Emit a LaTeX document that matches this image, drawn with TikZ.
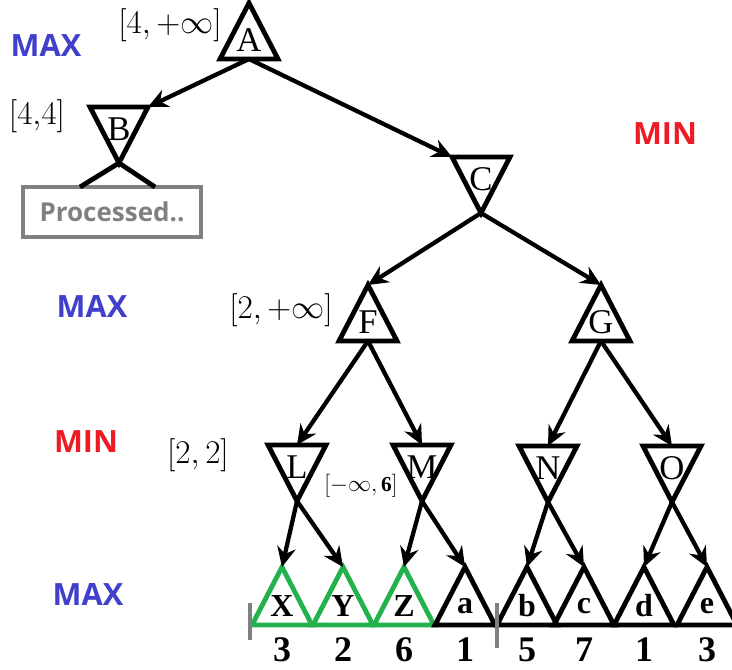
\documentclass[tikz,border=0pt]{standalone}
\usepackage{fontspec}
\setmainfont{Liberation Serif}
\newfontfamily\tagfont{Open Sans}
\usetikzlibrary{arrows.meta}

\definecolor{maxblue}{RGB}{64,64,204}
\definecolor{minred}{RGB}{237,28,36}
\definecolor{leafgreen}{RGB}{34,177,76}
\definecolor{boxgray}{RGB}{128,128,128}

\tikzset{
    tri/.style={line width=3.6pt,line join=miter},
    edge/.style={->,line width=3.2pt},
    letter/.style={inner sep=0pt,font=\fontsize{26}{26}\selectfont},
    leafletter/.style={inner sep=0pt,font=\fontsize{24}{24}\selectfont\bfseries},
    value/.style={inner sep=0pt,font=\fontsize{27}{27}\selectfont\bfseries},
    bound/.style={inner sep=0pt,font=\fontsize{24}{24}\selectfont},
    level/.style={inner sep=0pt,font=\fontsize{23}{23}\selectfont\tagfont\bfseries},
    procbox/.style={draw=boxgray,line width=3pt,minimum width=133pt,minimum height=37pt,
        text=boxgray,font=\fontsize{19.5}{19.5}\selectfont\tagfont\bfseries},
    bar/.style={draw=boxgray,line width=3pt},
    % up triangle: apex at the pic origin
    maxtri/.pic={
        \draw[tri] (0,0) coordinate (-top) -- (-29,56) -- (29,56) -- cycle;
        \coordinate (-bot) at (0,56);
        \node[letter] (-txt) at (0,37) {\tikzpictext};
    },
    % down triangle: top side centre at the pic origin
    mintri/.pic={
        \draw[tri] (-29,0) coordinate (-tl) -- (29,0) coordinate (-tr)
            -- (0,56) coordinate (-bot) -- cycle;
        \coordinate (-top) at (0,0);
        \node[letter] (-txt) at (0,22) {\tikzpictext};
    },
    leaftri/.pic={
        \draw[tri] (0,0) coordinate (-top) -- (-30,58) -- (30,58) -- cycle;
        \node[leafletter] (-txt) at (0,39) {\tikzpictext};
    },
}

\begin{document}
\begin{tikzpicture}[>={Stealth[length=15pt,width=14pt,inset=5pt]},x=0.75pt,y=-0.75pt]
    \useasboundingbox (0,0) rectangle (732,669);

    % level tags
    \node[level,text=maxblue] (max1) at (46,46) {MAX};
    \node[level,text=minred] (min1) at (665,134) {MIN};
    \node[level,text=maxblue] (max2) at (92,306) {MAX};
    \node[level,text=minred] (min2) at (86,442) {MIN};
    \node[level,text=maxblue] (max3) at (88,594) {MAX};

    % tree
    \pic[pic text=A] (A) at (249,3) {maxtri};
    \pic[pic text=B] (B) at (119,107) {mintri};
    \pic[pic text=C] (C) at (481,157) {mintri};
    \pic[pic text=F] (F) at (368,285) {maxtri};
    \pic[pic text=G] (G) at (601,285) {maxtri};
    \pic[pic text=L] (L) at (297,445) {mintri};
    \pic[pic text=M] (M) at (422,445) {mintri};
    \pic[pic text=N] (N) at (548,446) {mintri};
    \pic[pic text=O] (O) at (672,446) {mintri};

    \foreach \nm/\xx/\val/\col in {X/282/3/leafgreen, Y/343/2/leafgreen, Z/404/6/leafgreen,
            a/465/1/black, b/527/5/black, c/584/7/black, d/644/1/black, e/707/3/black}{
        \pic[pic text=\nm,tri/.append style={draw=\col}] (\nm) at (\xx,567) {leaftri};
        \node[value] (v\nm) at (\xx,650) {\val};
    }

    \node[procbox] (proc) at (112,212) {Processed..};
    \coordinate (pl) at (80,187);
    \coordinate (pr) at (155,187);
    \draw[tri] (pl) -- (B-bot) -- (pr);

    \draw[edge] (A-bot) -- (B-tr);
    \draw[edge] (A-bot) -- (C-tl);
    \draw[edge] (C-bot) -- (F-top);
    \draw[edge] (C-bot) -- (G-top);
    \draw[edge] (F-bot) -- (L-top);
    \draw[edge] (F-bot) -- (M-top);
    \draw[edge] (G-bot) -- (N-top);
    \draw[edge] (G-bot) -- (O-top);
    \draw[edge] (L-bot) -- (X-top);
    \draw[edge] (L-bot) -- (Y-top);
    \draw[edge] (M-bot) -- (Z-top);
    \draw[edge] (M-bot) -- (a-top);
    \draw[edge] (N-bot) -- (b-top);
    \draw[edge] (N-bot) -- (c-top);
    \draw[edge] (O-bot) -- (d-top);
    \draw[edge] (O-bot) -- (e-top);

    % alpha-beta bounds
    \node[bound] (bA) at (170,25) {$[4,+\infty]$};
    \node[bound] (bB) at (37,116) {$[4{,}4]$};
    \node[bound] (bF) at (281,310) {$[2,+\infty]$};
    \node[bound] (bL) at (198,455) {$[2,2]$};
    \node[bound,font=\fontsize{16}{16}\selectfont] (bM) at (361,486) {$[-\infty,\mathbf{6}]$};

    % cut-off marks
    \coordinate (cut1t) at (250,603);
    \coordinate (cut1b) at (250,640);
    \coordinate (cut2t) at (497,603);
    \coordinate (cut2b) at (497,648);
    \draw[bar] (cut1t) -- (cut1b);
    \draw[bar] (cut2t) -- (cut2b);
\end{tikzpicture}
\end{document}
